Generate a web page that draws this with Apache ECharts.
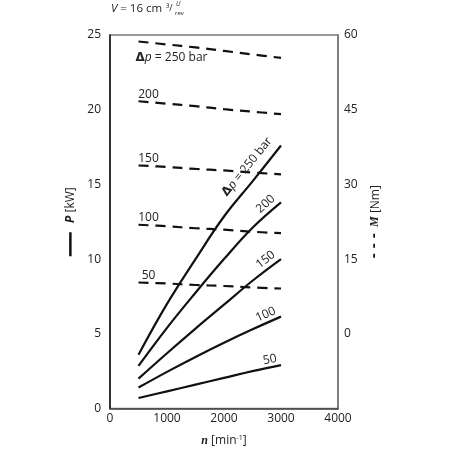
<!DOCTYPE html>
<html>
<head>
<meta charset="utf-8">
<script src="https://cdn.jsdelivr.net/npm/echarts@6/dist/echarts.min.js"></script>
<style>
  html, body { margin: 0; padding: 0; background: #fff; }
  #chart { width: 452px; height: 452px; }
</style>
</head>
<body>
<div id="chart"></div>
<script>
// speed n [min^-1]
const speed = [500, 1000, 1500, 2000, 2500, 3000];

// power P [kW] (solid lines), per pressure difference
const power250 = [3.6, 7.0, 10.0, 12.85, 15.2, 17.6];
const power200 = [2.85, 5.4, 7.75, 10.0, 12.1, 13.8];
const power150 = [2.0, 3.7, 5.35, 6.95, 8.55, 10.0];
const power100 = [1.4, 2.45, 3.45, 4.4, 5.3, 6.15];
const power50 = [0.7, 1.15, 1.6, 2.05, 2.5, 2.9];

// torque M [Nm] (dashed lines, right axis)
const torque250 = [58.7, 58.1, 57.5, 56.8, 56.1, 55.4];
const torque200 = [46.7, 46.2, 45.7, 45.1, 44.6, 44.1];
const torque150 = [33.8, 33.5, 33.1, 32.8, 32.4, 32.0];
const torque100 = [21.9, 21.6, 21.2, 20.9, 20.5, 20.2];
const torque50 = [10.3, 10.1, 9.8, 9.6, 9.3, 9.1];

const pressures = [250, 200, 150, 100, 50];
const powerSets = [power250, power200, power150, power100, power50];
const torqueSets = [torque250, torque200, torque150, torque100, torque50];

// rotation of the labels on the power lines
const powerLabelAngle = [51, 42, 37, 24, 11];

const FONT = "Open Sans";
const TXT = "#222";

const deltaRich = {
  d: { fontWeight: "bold", fontSize: 12, color: TXT, fontFamily: "DejaVu Sans" },
  p: { fontStyle: "italic", fontSize: 12, color: TXT, fontFamily: FONT },
  t: { fontSize: 12, color: TXT, fontFamily: FONT },
};

const pairs = (ys) => speed.map((n, i) => [n, ys[i]]);

const series = [];

powerSets.forEach((ys, k) => {
  const data = pairs(ys);
  const last = data.length - 1;
  data[last] = {
    value: data[last],
    label: {
      show: true,
      position: "left",
      distance: k === 0 ? 0 : 3,
      align: "right",
      verticalAlign: "bottom",
      rotate: powerLabelAngle[k],
      padding: k === 0 ? [0, 2, 7, 0] : [0, 0, 1, 0],
      formatter: k === 0 ? "{d|Δ}{p|p}{t| = 250 bar}" : "{t|" + pressures[k] + "}",
      rich: deltaRich,
    },
  };
  series.push({
    name: "P " + pressures[k],
    type: "line",
    yAxisIndex: 0,
    data,
    smooth: 0.4,
    showSymbol: true,
    symbol: "circle",
    symbolSize: 0,
    silent: true,
    lineStyle: { color: "#111", width: 2.2 },
    itemStyle: { color: "#111" },
    z: 3,
  });
});

torqueSets.forEach((ys, k) => {
  const data = pairs(ys);
  data[0] = {
    value: data[0],
    label: k === 0
      ? {
          show: true,
          position: "bottom",
          distance: 10,
          offset: [33, 0],
          formatter: "{d|Δ}{p|p}{t| = 250 bar}",
          rich: deltaRich,
        }
      : {
          show: true,
          position: "top",
          distance: 1,
          offset: [10, 0],
          formatter: "{t|" + pressures[k] + "}",
          rich: deltaRich,
        },
  };
  series.push({
    name: "M " + pressures[k],
    type: "line",
    yAxisIndex: 1,
    data,
    smooth: 0.4,
    showSymbol: true,
    symbol: "circle",
    symbolSize: 0,
    silent: true,
    lineStyle: { color: "#111", width: 2.2, type: [10, 7] },
    itemStyle: { color: "#111" },
    z: 3,
  });
});

const chart = echarts.init(document.getElementById("chart"));
chart.setOption({
  animation: false,
  textStyle: { fontFamily: FONT },
  grid: {
    left: 110,
    right: 114,
    top: 35,
    bottom: 40,
    show: true,
    borderColor: "#777",
    borderWidth: 1.5,
  },
  graphic: [
    {
      type: "text",
      left: 111,
      top: 3,
      style: {
        text: "{v|V} = 16 cm",
        rich: {
          v: { fontStyle: "italic", fontSize: 11.5, fill: TXT, fontFamily: FONT },
        },
        fontSize: 11.5,
        fill: TXT,
        fontFamily: FONT,
      },
    },
    { type: "text", left: 166, top: 4, style: { text: "³/", fontSize: 9, fill: TXT, fontFamily: FONT } },
    { type: "text", left: 176, top: 1, style: { text: "U", fontSize: 6.5, fontStyle: "italic", fill: TXT, fontFamily: FONT } },
    { type: "text", left: 175, top: 10, style: { text: "rev", fontSize: 6, fill: TXT, fontFamily: FONT } },
  ],
  xAxis: {
    type: "value",
    min: 0,
    max: 4000,
    interval: 1000,
    name: "{n|n} [min{s|-1}]",
    nameLocation: "middle",
    nameGap: 26,
    nameTextStyle: {
      color: TXT,
      fontSize: 12,
      rich: {
        n: { fontStyle: "italic", fontWeight: "bold", fontSize: 12, color: TXT, fontFamily: "Liberation Serif" },
        s: { fontSize: 7, verticalAlign: "top", color: TXT, padding: [0, 0, 6, 0] },
      },
    },
    axisLine: { lineStyle: { color: "#444", width: 1.5 } },
    axisTick: { show: false },
    splitLine: { show: false },
    axisLabel: { color: TXT, fontSize: 12, margin: 4, formatter: (v) => String(v) },
  },
  yAxis: [
    {
      type: "value",
      min: 0,
      max: 25,
      interval: 5,
      position: "left",
      name: "{l|}   {p|P} [kW]",
      nameLocation: "middle",
      nameRotate: 90,
      nameGap: 29,
      nameTextStyle: {
        color: TXT,
        fontSize: 12,
        padding: [0, 0, 0, 0],
        rich: {
          l: { width: 24, height: 2.5, backgroundColor: "#111" },
          p: { fontStyle: "italic", fontWeight: "bold", fontSize: 12, color: TXT },
        },
      },
      axisLine: { show: true, lineStyle: { color: "#111", width: 1.5 } },
      axisTick: { show: false },
      splitLine: { show: false },
      axisLabel: { color: TXT, fontSize: 12, margin: 9 },
    },
    {
      type: "value",
      min: -15,
      max: 60,
      interval: 15,
      position: "right",
      name: "{l|- - -}  {m|M} [Nm]",
      nameLocation: "middle",
      nameRotate: 90,
      nameGap: 26,
      nameTextStyle: {
        color: TXT,
        fontSize: 12,
        rich: {
          l: { fontSize: 13, color: "#111", fontWeight: "bold", fontFamily: "DejaVu Sans" },
          m: { fontStyle: "italic", fontWeight: "bold", fontSize: 12, color: TXT, fontFamily: "Liberation Serif" },
        },
      },
      axisLine: { show: true, lineStyle: { color: "#777", width: 1.5 } },
      axisTick: { show: false },
      splitLine: { show: false },
      axisLabel: {
        color: TXT,
        fontSize: 12,
        margin: 6,
        formatter: (v) => (v < 0 ? "" : String(v)),
      },
    },
  ],
  series,
});
</script>
</body>
</html>
